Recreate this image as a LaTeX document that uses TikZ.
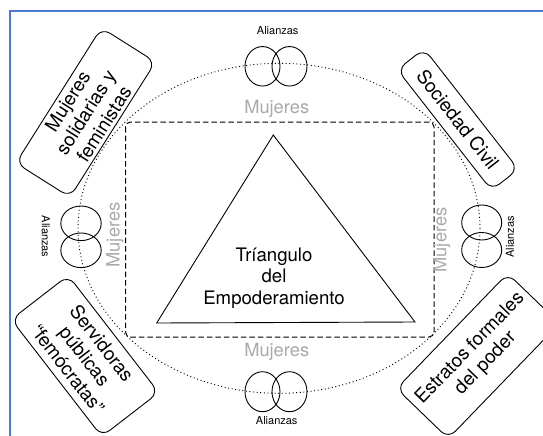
\documentclass[tikz,border=0pt]{standalone}
\usepackage{fontspec}
\setmainfont{TeX Gyre Heros}
\usetikzlibrary{shapes.geometric}
\definecolor{mgrey}{HTML}{A9A9A9}
\definecolor{frameblue}{HTML}{4A7BD0}
\tikzset{
  obox/.style={draw, rounded corners=10pt, fill=white, line width=0.9pt, align=center, inner sep=0pt, font=\fontsize{19}{21.5}\selectfont},
  alz/.style={draw, ellipse, line width=0.9pt, inner sep=0pt},
  mjr/.style={text=mgrey, font=\fontsize{18.3}{20}\selectfont, inner sep=0pt},
  allab/.style={font=\fontsize{11}{12}\selectfont, inner sep=0pt},
  ring/.style={line width=0.9pt, dash pattern=on 1pt off 2.6pt},
  frame/.style={dash pattern=on 5.5pt off 3pt, line width=1pt, rounded corners=5pt},
}
\begin{document}
\begin{tikzpicture}[x=1pt,y=-1pt]
\useasboundingbox (0,0) rectangle (543,436);
% blue frame
\coordinate (fa) at (10,437);
\coordinate (fb) at (10,10.7);
\coordinate (fc) at (544,10.7);
\draw[frameblue, line width=2pt] (fa) -- (fb) -- (fc);
% dotted ellipse
\coordinate (ec) at (279,228.3);
\draw[ring] (ec) ellipse [x radius=201, y radius=165];
% dashed rounded rectangle
\coordinate (r1) at (125.5,122);
\coordinate (r2) at (434,337);
\draw[frame] (r1) rectangle (r2);
% triangle
\coordinate (ta) at (273.3,135);
\coordinate (tb) at (156.7,323);
\coordinate (tc) at (415,322);
\draw[line width=0.9pt, line join=miter] (ta) -- (tb) -- (tc) -- cycle;
\node[font=\fontsize{18.6}{21.6}\selectfont, align=center, inner sep=0pt] (tt) at (274,278) {Tríangulo\\del\\Empoderamiento};
% Mujeres labels
\node[mjr] (mt) at (276.7,109.3) {Mujeres};
\node[mjr] (mb) at (276.7,351.7) {Mujeres};
\node[mjr, rotate=90] (ml) at (115,235) {Mujeres};
\node[mjr, rotate=90] (mr) at (441.7,240) {Mujeres};
% Alianzas circles
\node[alz, minimum width=35, minimum height=39.5] (at1) at (262.5,66.3) {};
\node[alz, minimum width=35, minimum height=39.5] (at2) at (289.5,66.3) {};
\node[alz, minimum width=35, minimum height=40] (ab1) at (262.5,391.7) {};
\node[alz, minimum width=35, minimum height=40] (ab2) at (289.5,391.7) {};
\node[alz, minimum width=40.4, minimum height=34.6] (al1) at (81,223.3) {};
\node[alz, minimum width=40.4, minimum height=34.6] (al2) at (81,250.3) {};
\node[alz, minimum width=40, minimum height=35] (ar1) at (481.7,222.5) {};
\node[alz, minimum width=40, minimum height=35] (ar2) at (481.7,250) {};
% Alianzas labels
\node[allab] (lt) at (277.7,31) {Alianzas};
\node[allab] (lb) at (276.7,420.7) {Alianzas};
\node[allab, rotate=-90] (ll) at (45.7,236.7) {Alianzas};
\node[allab, rotate=90] (lr) at (510,236.7) {Alianzas};
% boxes
\node[obox, rotate=57.7, minimum width=160, minimum height=64] (b1) at (85.7,112.5) {Mujeres\\solidarias y\\feministas};
\node[obox, rotate=-52, minimum width=153, minimum height=34] (b2) at (457.8,119.5) {Sociedad Civil};
\node[obox, rotate=-52.3, minimum width=148, minimum height=72] (b3) at (85,356) {Servidoras\\públicas\\“femócratas”};
\node[obox, rotate=46, minimum width=160, minimum height=72] (b4) at (478,356) {Estratos formales\\del poder};
\end{tikzpicture}
\end{document}
